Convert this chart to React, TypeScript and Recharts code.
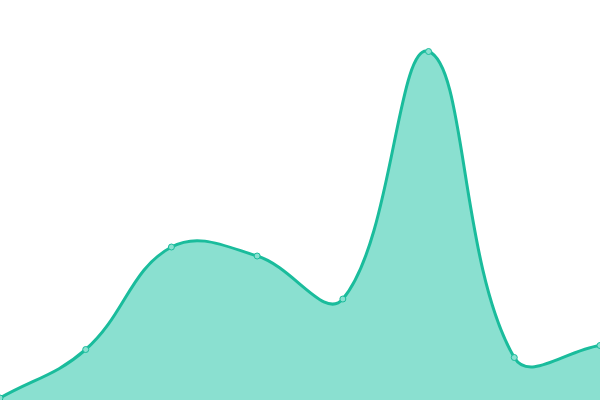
import React from "react";
import { AreaChart, Area, XAxis, YAxis } from "recharts";

const categories = ["A", "B", "C", "D", "E", "F", "G", "H"];
const values = [2, 50.5, 153, 144, 101, 348.5, 42.5, 54.5];

const data = categories.map((name, i) => ({ name, value: values[i] }));

const W = 600;
const H = 400;

// spline like chart.js (tension 0.4), control points kept inside the plot
const tensionCurve = (context: any) => {
    let line = NaN;
    let pts: number[][] = [];
    const t = 0.4;
    const clamp = (v: number, lo: number, hi: number) => Math.max(lo, Math.min(hi, v));
    return {
        areaStart() {
            line = 0;
        },
        areaEnd() {
            line = NaN;
        },
        lineStart() {
            pts = [];
        },
        point(x: number, y: number) {
            pts.push([+x, +y]);
        },
        lineEnd() {
            const n = pts.length;
            if (n) {
                if (line) context.lineTo(pts[0][0], pts[0][1]);
                else context.moveTo(pts[0][0], pts[0][1]);
                const cps = pts.map((cur, i) => {
                    const prev = pts[i - 1] || cur;
                    const next = pts[i + 1] || cur;
                    const d01 = Math.hypot(cur[0] - prev[0], cur[1] - prev[1]);
                    const d12 = Math.hypot(next[0] - cur[0], next[1] - cur[1]);
                    let s01 = d01 / (d01 + d12);
                    let s12 = d12 / (d01 + d12);
                    if (isNaN(s01)) s01 = 0;
                    if (isNaN(s12)) s12 = 0;
                    const fa = t * s01;
                    const fb = t * s12;
                    return {
                        px: clamp(cur[0] - fa * (next[0] - prev[0]), 0, W),
                        py: clamp(cur[1] - fa * (next[1] - prev[1]), 0, H),
                        nx: clamp(cur[0] + fb * (next[0] - prev[0]), 0, W),
                        ny: clamp(cur[1] + fb * (next[1] - prev[1]), 0, H),
                    };
                });
                for (let i = 1; i < n; i++) {
                    context.bezierCurveTo(
                        cps[i - 1].nx,
                        cps[i - 1].ny,
                        cps[i].px,
                        cps[i].py,
                        pts[i][0],
                        pts[i][1]
                    );
                }
            }
            if (line || (line !== 0 && n === 1)) context.closePath();
            line = 1 - line;
        },
    };
};

export default function App() {
    return (
        <div style={{ position: "fixed", left: 0, top: 0, width: W, height: H, background: "#fff" }}>
            <AreaChart
                width={W}
                height={H}
                data={data}
                margin={{ top: 0, right: 0, bottom: 0, left: 0 }}
            >
                <XAxis dataKey="name" hide />
                <YAxis hide domain={[0, 400]} />
                <Area
                    isAnimationActive={false}
                    type={tensionCurve as any}
                    dataKey="value"
                    stroke="#1abc9c"
                    strokeWidth={3}
                    fill="#8ae0d0"
                    fillOpacity={1}
                    dot={{ r: 3, fill: "#8ae0d0", stroke: "#1abc9c", strokeWidth: 1, fillOpacity: 1 }}
                    activeDot={false}
                />
            </AreaChart>
        </div>
    );
}
